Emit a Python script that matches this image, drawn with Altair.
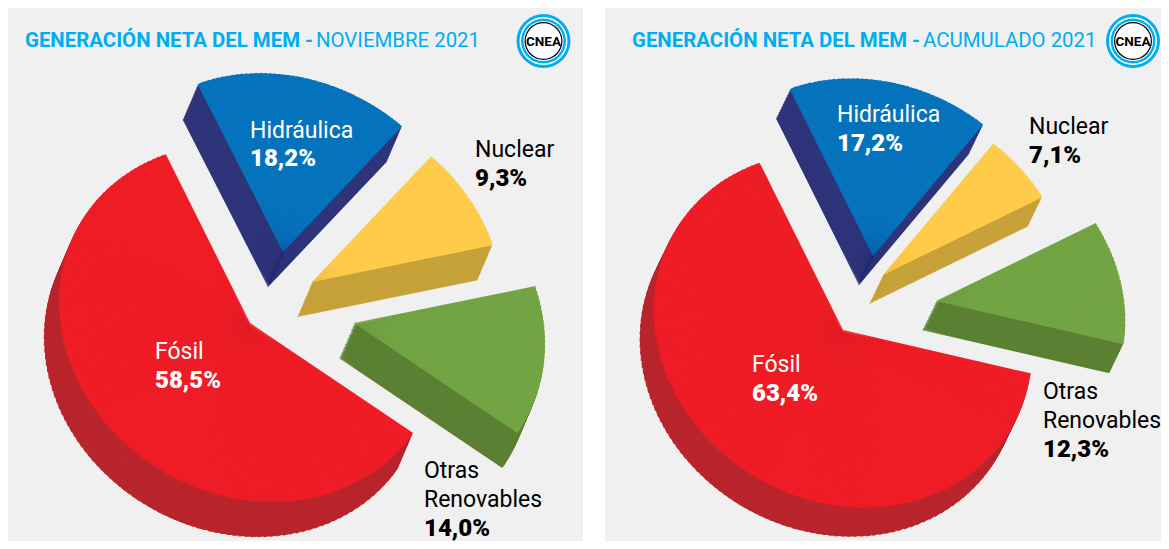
import math
import altair as alt
import pandas as pd

M = 8
W, H = 1161, 541

# ---- chart values
categories = ["Fósil", "Hidráulica", "Nuclear", "Otras Renovables"]
share_nov = ["58,5%", "18,2%", "9,3%", "14,0%"]
share_acu = ["63,4%", "17,2%", "7,1%", "12,3%"]
# drawn slice angles (degrees clockwise from 12 o'clock)
start_nov = [124, -27, 43.5, 78.5]
end_nov = [333.5, 43.5, 78.5, 124]
start_acu = [103, -26.5, 40, 64]
end_acu = [333.5, 40, 64, 103]
# slice apex positions
cx_nov = [250, 283, 312, 354]
cy_nov = [323, 252, 282, 323]
cx_acu = [843, 873, 883, 936]
cy_acu = [330, 256, 275, 301]
# the pie is seen in perspective: long and short half-axis of its outline
axes_nov = (197, 172)
axes_acu = (195, 171)
long_axis_deg = 120
depth_nov = (-15, 35)
depth_acu = (-14, 29)

top_colors = ["#ee1c25", "#0573bc", "#ffcb4a", "#72a444"]
side_colors = ["#b9252d", "#2e3479", "#c6a23a", "#5b8033"]
panel_bg = "#f0f0f0"
cyan = "#00aeef"
FONT = "Roboto"

titles_bold = ["GENERACIÓN NETA DEL MEM -", "GENERACIÓN NETA DEL MEM -"]
titles_reg = ["NOVIEMBRE 2021", "ACUMULADO 2021"]

xs = alt.Scale(domain=[M, W], range=[0, W - M])
ys = alt.Scale(domain=[M, H], range=[0, H - M])


def X(f):
    return alt.X(f, type="quantitative", scale=xs, axis=None)


def Y(f):
    return alt.Y(f, type="quantitative", scale=ys, axis=None)


# ---- panels
panels = pd.DataFrame({"x": [8, 605], "x2": [583, W], "y": [8, 8], "y2": [H, H]})
panel_layer = alt.Chart(panels).mark_rect(color=panel_bg).encode(
    x=X("x"), x2="x2", y=Y("y"), y2="y2"
)


# ---- pie slices: every slice is a fan of narrow, overlapping arcs along the outline
def outline(deg, axes):
    a, b = axes
    t = math.radians(deg - long_axis_deg)
    return a * b / math.sqrt((b * math.cos(t)) ** 2 + (a * math.sin(t)) ** 2)


def fan(start, end, step):
    n = max(1, round((end - start) / step))
    da = (end - start) / n
    out = []
    for k in range(n):
        w0 = start + k * da
        w1 = min(end, w0 + da * 1.5)
        out.append((w0, w1, outline(w0 + da / 2, AXES)))
    return out


rows = []
for starts, ends, cxs, cys, AXES, depth in [
    (start_nov, end_nov, cx_nov, cy_nov, axes_nov, depth_nov),
    (start_acu, end_acu, cx_acu, cy_acu, axes_acu, depth_acu),
]:
    for i in [1, 2, 3, 0]:
        levels = depth[1] * 2 // 3
        side = fan(starts[i], ends[i], 2)
        for s in range(levels, 0, -1):
            f = s / levels
            for w0, w1, r in side:
                rows.append(dict(x=cxs[i] + depth[0] * f, y=cys[i] + depth[1] * f,
                                 a0=math.radians(w0), a1=math.radians(w1), r=r, c=side_colors[i]))
        for w0, w1, r in fan(starts[i], ends[i], 1.5):
            rows.append(dict(x=cxs[i], y=cys[i], a0=math.radians(w0), a1=math.radians(w1),
                             r=r, c=top_colors[i]))
slices = pd.DataFrame(rows)


def arc_layer(df):
    return alt.Chart(df).mark_arc(innerRadius=0, strokeWidth=0).encode(
        x=X("x"), y=Y("y"),
        theta=alt.Theta("a0:Q", scale=None, stack=False),
        theta2="a1:Q",
        radius=alt.Radius("r:Q", scale=None),
        color=alt.Color("c:N", scale=None, legend=None),
    )


slice_layer = arc_layer(slices)

# ---- labels
lab = pd.DataFrame([
    dict(t="Hidráulica", x=250, y=129, c="#ffffff", b=False),
    dict(t=share_nov[1], x=250, y=157, c="#ffffff", b=True),
    dict(t="Nuclear", x=475, y=148, c="#000000", b=False),
    dict(t=share_nov[2], x=475, y=177, c="#000000", b=True),
    dict(t="Fósil", x=155, y=350, c="#ffffff", b=False),
    dict(t=share_nov[0], x=155, y=379, c="#ffffff", b=True),
    dict(t="Otras", x=424, y=469, c="#000000", b=False),
    dict(t="Renovables", x=424, y=498, c="#000000", b=False),
    dict(t=share_nov[3], x=424, y=527, c="#000000", b=True),
    dict(t="Hidráulica", x=837, y=113, c="#ffffff", b=False),
    dict(t=share_acu[1], x=837, y=142, c="#ffffff", b=True),
    dict(t="Nuclear", x=1029, y=125, c="#000000", b=False),
    dict(t=share_acu[2], x=1029, y=154, c="#000000", b=True),
    dict(t="Fósil", x=752, y=363, c="#ffffff", b=False),
    dict(t=share_acu[0], x=752, y=392, c="#ffffff", b=True),
    dict(t="Otras", x=1043, y=390, c="#000000", b=False),
    dict(t="Renovables", x=1043, y=419, c="#000000", b=False),
    dict(t=share_acu[3], x=1043, y=448, c="#000000", b=True),
])
lab["y"] = lab["y"] + 1.5


def text_layer(df, size, weight, color=None, font=FONT, align="left"):
    enc = dict(x=X("x"), y=Y("y"), text="t:N")
    kw = dict(font=font, fontSize=size, fontWeight=weight, align=align, baseline="middle")
    if color is None:
        enc["color"] = alt.Color("c:N", scale=None, legend=None)
    else:
        kw["color"] = color
    return alt.Chart(df).mark_text(**kw).encode(**enc)


lab_reg = text_layer(lab[~lab.b], 23, "normal")
lab_bold = text_layer(lab[lab.b], 24, 900)

title_b = text_layer(pd.DataFrame({"t": titles_bold, "x": [25, 632], "y": [41, 41]}),
                     20.4, "bold", color=cyan)
title_r = text_layer(pd.DataFrame({"t": titles_reg, "x": [316, 923], "y": [41, 41]}),
                     20.4, "normal", color=cyan)

# ---- logos
logo_x = [543.5, 1133]
logo_rows = []
for lx in logo_x:
    for r, c in [(27, cyan), (24, "#ffffff"), (22.5, cyan), (20, "#ffffff"), (19, "#000000"), (17.8, "#ffffff")]:
        logo_rows.append(dict(x=lx, y=41, r=r, c=c, a0=0, a1=2 * math.pi))
logo_rings = arc_layer(pd.DataFrame(logo_rows))
logo_text = text_layer(pd.DataFrame({"t": ["CNEA", "CNEA"], "x": logo_x, "y": [42, 42]}),
                       13.5, "bold", color="#000000", align="center")

chart = alt.layer(
    panel_layer, slice_layer, lab_reg, lab_bold, title_b, title_r, logo_rings, logo_text
).properties(
    width=W - M, height=H - M, padding=0, autosize=alt.AutoSizeParams(type="none")
).configure_view(stroke=None)

chart.save("out.html", embed_options={"renderer": "svg", "actions": False})
